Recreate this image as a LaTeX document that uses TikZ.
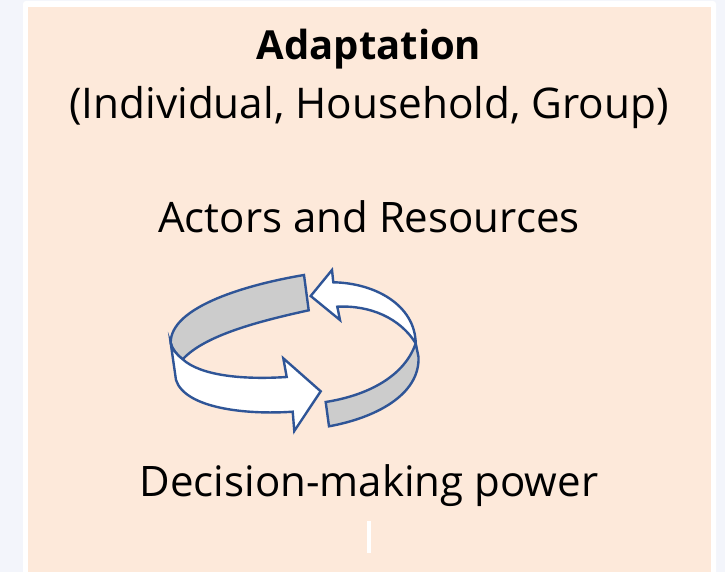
\documentclass[tikz,border=0pt]{standalone}
\usepackage{fontspec}
\setmainfont{Open Sans}
\definecolor{pagebg}{HTML}{F3F5FB}
\definecolor{peach}{HTML}{FDE9DA}
\definecolor{ringblue}{HTML}{2F5597}
\definecolor{ringgray}{HTML}{CCCCCC}
\tikzset{
  label text/.style={anchor=base,font=\fontsize{42pt}{44pt}\selectfont},
  ring band/.style={draw=ringblue,line width=2.4pt,line join=miter,fill=ringgray},
  ring arrow/.style={ring band,fill=white}
}
\begin{document}
\begin{tikzpicture}[x=1pt,y=-1pt]
      \useasboundingbox (0,0) rectangle (725,572);
      \fill[pagebg] (0,0) rectangle (725,572);
      \fill[white,rounded corners=3pt] (23,1) rectangle (716,580);
      \fill[peach] (28,7) rectangle (711,572);
      \fill[white] (367,521) rectangle (371,553);

      \node[label text,font=\fontsize{40pt}{44pt}\selectfont\bfseries] (title) at (369,60) {Adaptation};
      \node[label text,font=\fontsize{42.3pt}{44pt}\selectfont] (levels) at (369,118.5) {(Individual, Household, Group)};
      \node[label text] (actors) at (369,233) {Actors and Resources};
      \node[label text] (power) at (369,496) {Decision-making power};

      \draw[ring band] (304,275) .. controls (250,284) and (170,306) .. (170.7,343)
        .. controls (172,349) and (177,355) .. (182.7,359.3)
        .. controls (205,335) and (260,321) .. (308.7,310.3) -- cycle;
      \draw[ring arrow] (170.7,343) -- (176,380) .. controls (185,408) and (245,415) .. (292.7,411.7)
        -- (294.3,431) -- (320.7,391.3) -- (283.3,358.3) -- (286.7,377)
        .. controls (240,380) and (200,375) .. (182.7,359.3)
        .. controls (177,355) and (172,349) .. (170.7,343) -- cycle;
      \draw[ring arrow] (310.7,296) -- (332,270) -- (333.3,282.3)
        .. controls (375,283) and (415,305) .. (415.7,343.3)
        .. controls (400,318) and (370,305) .. (337.3,306.7) -- (340,320) -- cycle;
      \draw[ring band] (325.7,402) -- (329,426.3) .. controls (375,418) and (420,395) .. (418.5,357)
        -- (415.7,343.3) .. controls (405,375) and (370,395) .. (325.7,402) -- cycle;
\end{tikzpicture}
\end{document}
